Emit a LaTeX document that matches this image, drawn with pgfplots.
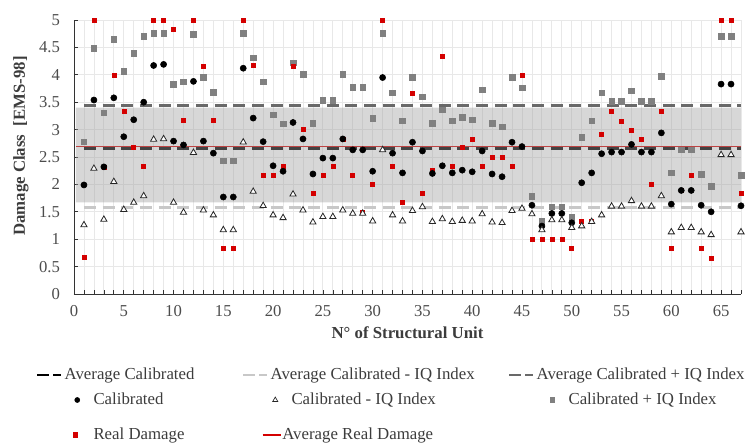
\documentclass[border=0pt]{standalone}
\usepackage{fontspec}
\setmainfont{Liberation Serif}
\usepackage{pgfplots}
\pgfplotsset{compat=1.18}
\usepackage{pgfplotstable}

\definecolor{cgray}{RGB}{128,128,128}
\definecolor{cred}{RGB}{212,0,0}
\definecolor{lgray}{RGB}{200,200,200}
\definecolor{dgray}{RGB}{105,105,105}
\definecolor{bandc}{RGB}{160,160,160}
\definecolor{gridc}{RGB}{232,232,232}
\definecolor{txt}{RGB}{60,60,60}

\pgfplotstableread{
n p c m r
1 2.78 1.99 1.26 0.67
2 4.48 3.54 2.29 5.00
3 3.31 2.32 1.36 2.32
4 4.65 3.58 2.05 4.00
5 4.06 2.87 1.54 3.34
6 4.39 3.18 1.67 2.68
7 4.70 3.50 1.79 2.34
8 4.76 4.17 2.82 5.00
9 4.76 4.19 2.83 5.00
10 3.83 2.79 1.67 4.83
11 3.87 2.72 1.49 3.17
12 4.74 3.88 2.58 5.00
13 3.95 2.79 1.53 4.16
14 3.68 2.57 1.44 3.17
15 2.43 1.77 1.17 0.83
16 2.43 1.77 1.17 0.83
17 4.76 4.12 2.77 5.00
18 4.31 3.21 1.87 4.17
19 3.87 2.78 1.61 2.17
20 3.27 2.34 1.44 2.17
21 3.11 2.24 1.39 2.34
22 4.22 3.13 1.82 4.16
23 4.01 2.83 1.53 3.00
24 3.12 2.19 1.31 1.83
25 3.54 2.48 1.41 2.17
26 3.54 2.48 1.41 2.34
27 4.01 2.83 1.53 2.83
28 3.77 2.63 1.47 2.16
29 3.77 2.63 1.47 1.50
30 3.21 2.24 1.33 2.00
31 4.76 3.95 2.63 5.00
32 3.67 2.57 1.44 2.34
33 3.16 2.21 1.33 1.67
34 3.95 2.77 1.52 3.67
35 3.60 2.61 1.59 1.83
36 3.12 2.20 1.32 2.26
37 3.36 2.34 1.37 4.33
38 3.16 2.21 1.32 2.34
39 3.23 2.26 1.34 2.67
40 3.18 2.23 1.33 2.83
41 3.73 2.61 1.46 2.34
42 3.12 2.19 1.31 2.50
43 3.05 2.14 1.30 2.50
44 3.95 2.77 1.52 2.34
45 3.76 2.69 1.56 4.00
46 1.78 1.62 1.46 1.00
47 1.33 1.24 1.17 1.00
48 1.59 1.47 1.35 1.00
49 1.59 1.47 1.35 1.00
50 1.40 1.30 1.21 0.83
51 2.86 2.03 1.24 1.33
52 3.16 2.21 1.32 1.33
53 3.67 2.56 1.44 2.91
54 3.52 2.59 1.60 3.33
55 3.52 2.59 1.60 3.16
56 3.71 2.73 1.70 2.99
57 3.52 2.59 1.60 2.83
58 3.52 2.59 1.60 2.00
59 3.97 2.94 1.79 3.33
60 2.21 1.64 1.13 0.83
61 2.63 1.89 1.21 1.89
62 2.63 1.89 1.21 2.17
63 2.19 1.62 1.13 0.83
64 1.97 1.50 1.08 0.66
65 4.70 3.83 2.54 5.00
66 4.70 3.83 2.54 5.00
67 2.17 1.61 1.13 1.83
}\data

\pgfplotsset{
  legax/.style={scale only axis, width=500.25pt, height=205.5pt, hide axis,
    xmin=0, xmax=1, ymin=0, ymax=1,
    legend style={draw=none, fill=none, inner sep=0pt, outer sep=0pt, anchor=west,
      font=\fontsize{12.6}{15}\selectfont, text=txt, legend cell align=left,
      nodes={inner xsep=0pt, inner ysep=1pt}}},
  dashimg/.style={legend image code/.code={\draw[##1] (0pt,0pt) -- (18pt,0pt); \path (0pt,0pt) (19.5pt,0pt);}},
  lineimg/.style={legend image code/.code={\draw[##1] (0pt,0pt) -- (13.5pt,0pt); \path (0pt,0pt) (14.25pt,0pt);}},
  markimg/.style={legend image code/.code={\draw[##1] plot coordinates {(4.5pt,0pt)}; \path (0pt,0pt) (#1,0pt);}},
}

\begin{document}
\begin{tikzpicture}
\begin{axis}[
  scale only axis, width=500.25pt, height=205.5pt,
  xmin=0, xmax=67, ymin=0, ymax=5,
  clip=false,
  axis x line*=bottom, axis y line*=left,
  axis line style={draw=black!80, -},
  xtick={0,5,...,65}, minor xtick={0,1,...,67},
  ytick={0,0.5,...,5},
  grid=both, major grid style={gridc, line width=0.6pt}, minor grid style={gridc, line width=0.6pt},
  tick align=inside, major tick length=3pt, minor tick length=3pt,
  tick style={black!80, line width=0.5pt},
  /pgf/number format/assume math mode=true,
  tick label style={font=\fontsize{12.5}{14}\selectfont, text=black!70},
  xticklabel style={yshift=-5pt},
  yticklabel style={xshift=-7pt},
  label style={font=\bfseries\fontsize{12.6}{15}\selectfont, text=txt},
  xlabel={N° of Structural Unit},
  ylabel={Damage Class\hspace{0.5em}[EMS-98]},
  xlabel style={at={(axis description cs:0.5,-0.142)}, anchor=center},
  ylabel style={at={(axis description cs:-0.0795,0.54)}, anchor=center},
]
% average lines
\addplot[lgray, line width=2pt, dash pattern=on 9pt off 5pt] coordinates {(1,1.58) (67,1.58)};
\addplot[dgray, line width=2pt, dash pattern=on 9pt off 5pt] coordinates {(1,3.44) (67,3.44)};
\addplot[black, line width=2pt, dash pattern=on 9pt off 5pt] coordinates {(1,2.655) (67,2.655)};
\addplot[cred, line width=1pt] coordinates {(0.2,2.69) (67,2.69)};
% points
\addplot[only marks, mark=square*, mark size=2.1pt, mark options={fill=cgray, draw=cgray}] table[x=n, y=p]{\data};
\addplot[only marks, mark=square*, mark size=1.5pt, mark options={fill=cred, draw=cred}] table[x=n, y=r]{\data};
\addplot[only marks, mark=*, mark size=2.3pt, mark options={fill=black, draw=black}] table[x=n, y=c]{\data};
\addplot[only marks, mark=triangle*, mark size=2.7pt, mark options={fill=white, draw=black!85, line width=0.6pt}] table[x=n, y=m]{\data};
% interquartile band
\addplot[draw=none, fill=bandc, fill opacity=0.42] coordinates {(0.2,1.67) (67,1.67) (67,3.40) (0.2,3.40) (0.2,1.67)};
\end{axis}

% legend entries
\begin{axis}[legax, legend style={at={(-0.05697,-0.29562)}}]
\addlegendimage{dashimg, black, line width=2pt, dash pattern=on 9pt off 3pt}
\addlegendentry{Average Calibrated}
\end{axis}
\begin{axis}[legax, legend style={at={(0.25187,-0.29562)}}]
\addlegendimage{dashimg, lgray, line width=2pt, dash pattern=on 9pt off 3pt}
\addlegendentry{Average Calibrated - IQ Index}
\end{axis}
\begin{axis}[legax, legend style={at={(0.65067,-0.29562)}}]
\addlegendimage{dashimg, dgray, line width=2pt, dash pattern=on 9pt off 3pt}
\addlegendentry{Average Calibrated + IQ Index}
\end{axis}
\begin{axis}[legax, legend style={at={(-0.0045,-0.38686)}}]
\addlegendimage{markimg=16.5pt, only marks, mark=*, mark size=1.9pt, mark options={fill=black, draw=black}}
\addlegendentry{Calibrated}
\end{axis}
\begin{axis}[legax, legend style={at={(0.29235,-0.38686)}}]
\addlegendimage{markimg=16.5pt, only marks, mark=triangle*, mark size=2.2pt, mark options={fill=white, draw=black!85, line width=0.5pt}}
\addlegendentry{Calibrated - IQ Index}
\end{axis}
\begin{axis}[legax, legend style={at={(0.70765,-0.38686)}}]
\addlegendimage{markimg=16.5pt, only marks, mark=square*, mark size=1.8pt, mark options={fill=cgray, draw=cgray}}
\addlegendentry{Calibrated + IQ Index}
\end{axis}
\begin{axis}[legax, legend style={at={(-0.0075,-0.51460)}}]
\addlegendimage{markimg=18pt, only marks, mark=square*, mark size=1.8pt, mark options={fill=cred, draw=cred}}
\addlegendentry{Real Damage}
\end{axis}
\begin{axis}[legax, legend style={at={(0.28186,-0.51460)}}]
\addlegendimage{lineimg, cred, line width=1pt}
\addlegendentry{Average Real Damage}
\end{axis}

\pgfresetboundingbox
\path[use as bounding box] (-55.5pt,-111.75pt) rectangle (508.5pt,220.5pt);
\end{tikzpicture}
\end{document}
